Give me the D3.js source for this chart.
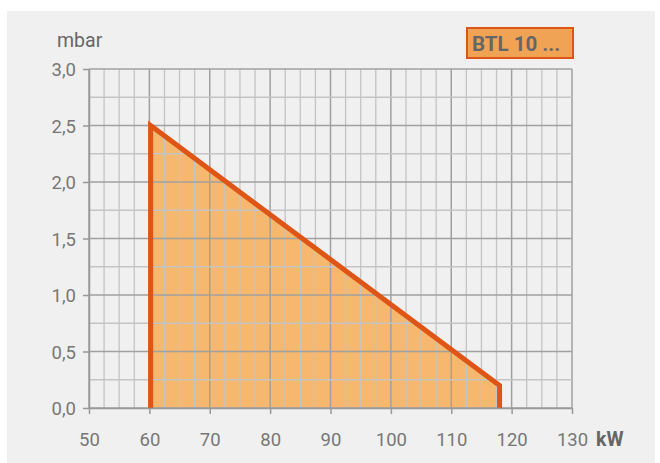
<!DOCTYPE html>
<html><head><meta charset="utf-8">
<script src="https://cdn.jsdelivr.net/npm/d3@7"></script>
<style>body{margin:0;background:#fff;}svg{display:block;font-family:Roboto,sans-serif;}</style>
</head><body><svg id="c" width="660" height="463"></svg>
<script>
const xTicks = [50,60,70,80,90,100,110,120,130];
const yTicks = [0,0.5,1.0,1.5,2.0,2.5,3.0];
const yTickLabels = ["0,0","0,5","1,0","1,5","2,0","2,5","3,0"];
const fieldKW = [60.2, 60.2, 118, 118];
const fieldMbar = [0, 2.5, 0.2, 0];
const legendLabel = "BTL 10 ...";
const xUnit = "kW", yUnit = "mbar";

const svg = d3.select("#c");
svg.append("rect").attr("x",7).attr("y",11).attr("width",648).attr("height",452).attr("fill","#f0f0f0");
const x = d3.scaleLinear().domain([50,130]).range([89,572]);
const y = d3.scaleLinear().domain([0,3]).range([408,69]);

// field fill (behind grid)
const pts = fieldKW.map((k,i)=>[x(k),y(fieldMbar[i])]);
svg.append("path").attr("d",d3.line()(pts)+"Z").attr("fill","#f5b86e");

const g = svg.append("g");
d3.range(50,130.01,2.5).forEach(v=>{
  const major = v%10===0;
  g.append("line").attr("x1",x(v)).attr("x2",x(v)).attr("y1",y(0)).attr("y2",y(3))
   .attr("stroke",major?"#a0a0a0":"#c4c4c4").attr("stroke-width",major?1.5:1.3);
});
d3.range(0,3.01,0.25).forEach(v=>{
  const major = Math.abs(v*2-Math.round(v*2))<1e-6;
  g.append("line").attr("x1",x(50)).attr("x2",x(130)).attr("y1",y(v)).attr("y2",y(v))
   .attr("stroke",major?"#a0a0a0":"#c4c4c4").attr("stroke-width",major?1.5:1.3);
});

svg.append("path").attr("d",d3.line()(pts)).attr("fill","none").attr("stroke","#de5516").attr("stroke-width",5).attr("stroke-linejoin","miter");

// axes
const xa = svg.append("g").attr("transform",`translate(0,${y(0)})`)
  .call(d3.axisBottom(x).tickValues(xTicks).tickSize(6).tickSizeOuter(0).tickFormat(d3.format("d")));
const ya = svg.append("g").attr("transform",`translate(${x(50)},0)`)
  .call(d3.axisLeft(y).tickValues(yTicks).tickSize(6).tickSizeOuter(0).tickFormat((d,i)=>yTickLabels[i]));
[xa,ya].forEach(a=>{
  a.select(".domain").attr("stroke","#999").attr("stroke-width",1.5);
  a.selectAll(".tick line").attr("stroke","#999").attr("stroke-width",1.5);
  a.selectAll("text").attr("fill","#777").attr("font-size",18.5).attr("font-family","Roboto,sans-serif");
});
xa.selectAll("text").attr("dy",null).attr("y",38);
ya.selectAll("text").attr("x",-13).attr("dy","0.36em");

svg.append("text").attr("x",57).attr("y",47).attr("fill","#666").attr("font-size",19.5).text(yUnit);
svg.append("text").attr("x",596).attr("y",446).attr("fill","#666").attr("font-size",19.5).attr("font-weight","bold").text(xUnit);

// legend
svg.append("rect").attr("x",467).attr("y",28).attr("width",106).attr("height",30)
  .attr("fill","#f0a255").attr("stroke","#de5516").attr("stroke-width",2);
svg.append("text").attr("x",472).attr("y",51).attr("fill","#666").attr("font-size",20.5).attr("font-weight","bold").text(legendLabel);
</script></body></html>
